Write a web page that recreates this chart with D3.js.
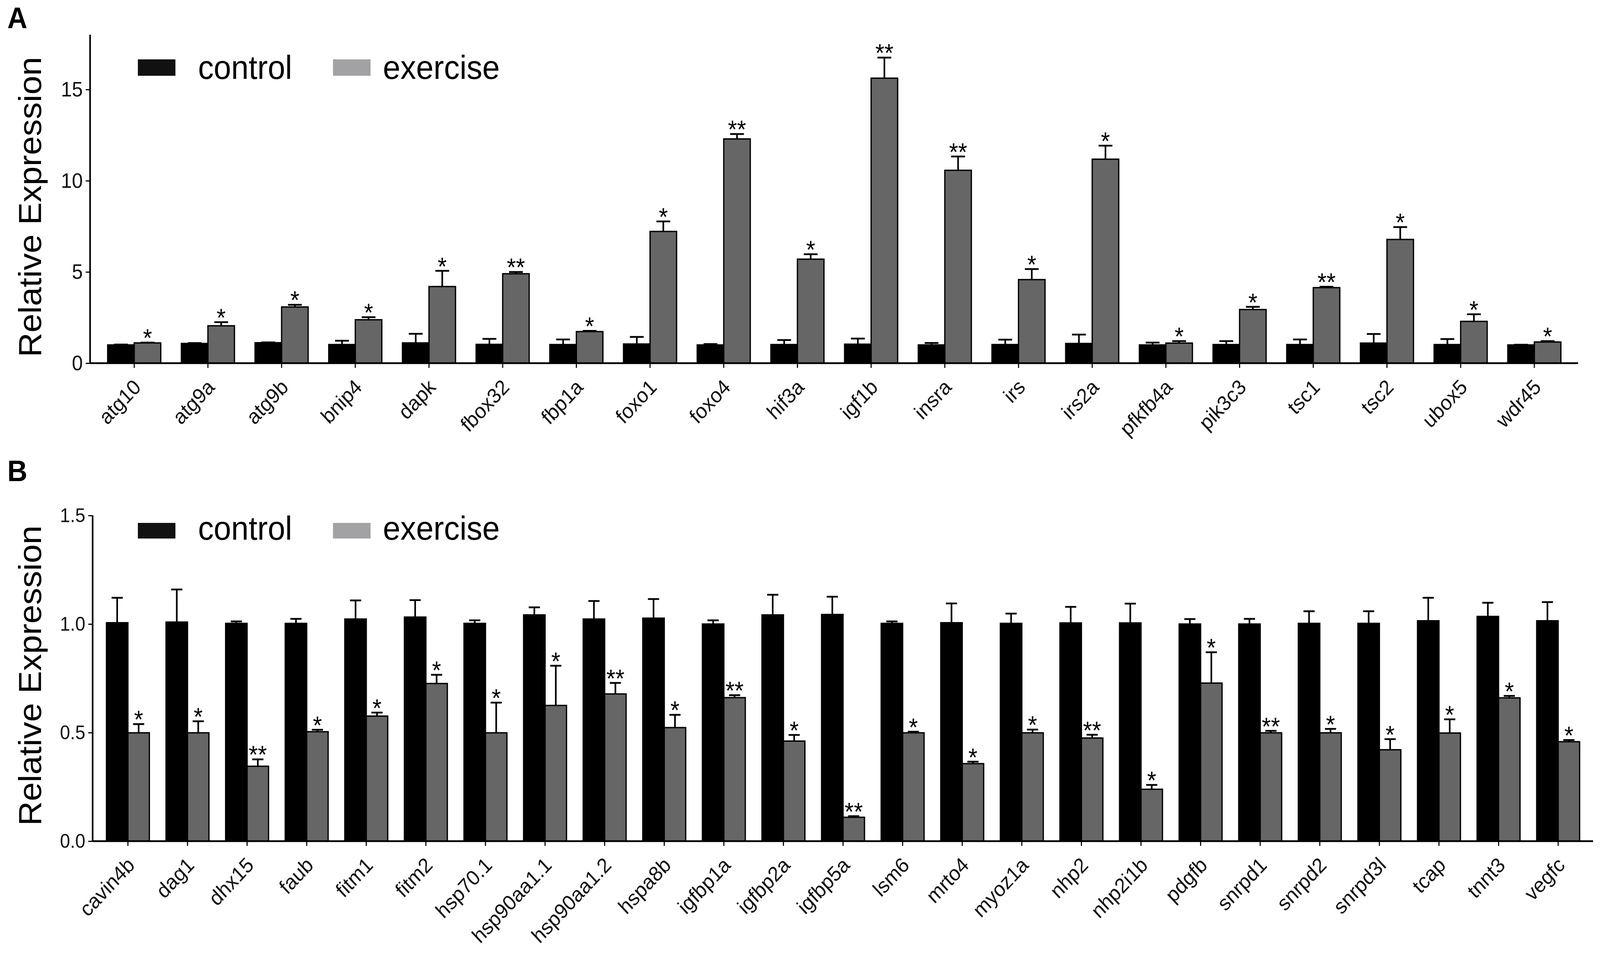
<!DOCTYPE html>
<html><head><meta charset="utf-8">
<script src="https://cdn.jsdelivr.net/npm/d3@7/dist/d3.min.js"></script>
<style>html,body{margin:0;padding:0;background:#fff;width:100%;height:100%;overflow:hidden;}svg{display:block;width:100vw;height:100vh;}</style>
</head><body>
<svg id="c" viewBox="0 0 4387 2466" preserveAspectRatio="none"></svg>
<script>
// ---------- data ----------
const seriesNames = ["control", "exercise"];

const catsA = ["atg10","atg9a","atg9b","bnip4","dapk","fbox32","fbp1a","foxo1","foxo4","hif3a","igf1b","insra","irs","irs2a","pfkfb4a","pik3c3","tsc1","tsc2","ubox5","wdr45"];
const ctrlA    = [1.00,1.08,1.12,1.02,1.11,1.03,1.02,1.05,1.00,1.02,1.04,1.00,1.02,1.08,1.00,1.02,1.02,1.10,1.02,1.00];
const ctrlErrA = [0.02,0.02,0.02,0.21,0.50,0.30,0.28,0.39,0.05,0.25,0.31,0.11,0.27,0.49,0.13,0.19,0.28,0.50,0.30,0.01];
const exA      = [1.11,2.05,3.08,2.38,4.20,4.90,1.73,7.22,12.29,5.70,15.62,10.57,4.58,11.18,1.10,2.94,4.14,6.78,2.29,1.16];
const exErrA   = [0.02,0.20,0.12,0.14,0.86,0.10,0.04,0.55,0.27,0.27,1.13,0.76,0.58,0.74,0.11,0.15,0.05,0.68,0.39,0.05];
const sigA     = ["*","*","*","*","*","**","*","*","**","*","**","**","*","*","*","*","**","*","*","*"];
const ticksA   = [0, 5, 10, 15];

const catsB = ["cavin4b","dag1","dhx15","faub","fitm1","fitm2","hsp70.1","hsp90aa1.1","hsp90aa1.2","hspa8b","igfbp1a","igfbp2a","igfbp5a","lsm6","mrto4","myoz1a","nhp2","nhp2i1b","pdgfb","snrpd1","snrpd2","snrpd3l","tcap","tnnt3","vegfc"];
const ctrlB    = [1.006,1.009,1.003,1.003,1.023,1.032,1.003,1.042,1.023,1.027,1.000,1.042,1.044,1.003,1.006,1.003,1.005,1.005,1.000,1.000,1.003,1.003,1.015,1.035,1.015];
const ctrlErrB = [0.115,0.150,0.009,0.021,0.086,0.078,0.014,0.035,0.083,0.088,0.017,0.093,0.082,0.009,0.089,0.045,0.074,0.089,0.023,0.024,0.056,0.056,0.106,0.063,0.086];
const exB      = [0.499,0.499,0.345,0.504,0.576,0.726,0.499,0.625,0.678,0.523,0.661,0.461,0.110,0.499,0.357,0.499,0.475,0.239,0.728,0.499,0.499,0.421,0.498,0.660,0.458];
const exErrB   = [0.040,0.053,0.032,0.009,0.016,0.040,0.139,0.183,0.051,0.059,0.011,0.028,0.005,0.005,0.009,0.015,0.015,0.020,0.142,0.009,0.018,0.049,0.063,0.009,0.008];
const sigB     = ["*","*","**","*","*","*","*","*","**","*","**","*","**","*","*","*","**","*","*","**","*","*","*","*","*"];
const ticksB   = [0, 0.5, 1.0, 1.5];

// ---------- drawing ----------
const FONT = "'Liberation Sans', Arial, Helvetica, sans-serif";
const svg = d3.select("#c");
svg.append("rect").attr("width", 4387).attr("height", 2466).attr("fill", "#fff");

function panel(cfg) {
  const g = svg.append("g");
  const x = d3.scaleBand().domain(cfg.cats).range(cfg.bandRange).padding(0);
  const xg = d3.scaleBand().domain(seriesNames).range([x.bandwidth() * 0.14, x.bandwidth() * 0.86]).padding(0);
  const y = d3.scaleLinear().domain(cfg.yDomain).range(cfg.yRange);
  const bw = xg.bandwidth();

  const rows = cfg.cats.map((c, i) => ({
    cat: c,
    vals: [
      { s: "control", v: cfg.ctrl[i], e: cfg.ctrlErr[i] },
      { s: "exercise", v: cfg.ex[i], e: cfg.exErr[i] }
    ],
    sig: cfg.sig[i]
  }));
  const fill = { control: "#000000", exercise: "#666666" };

  const grp = g.selectAll("g.cat").data(rows).join("g").attr("class", "cat")
    .attr("transform", d => `translate(${x(d.cat)},0)`);
  grp.selectAll("rect").data(d => d.vals).join("rect")
    .attr("x", d => xg(d.s))
    .attr("width", bw)
    .attr("y", d => y(d.v))
    .attr("height", d => y(0) - y(d.v))
    .attr("fill", d => fill[d.s])
    .attr("stroke", "#000").attr("stroke-width", 3.5);

  grp.selectAll("path.err").data(d => d.vals).join("path").attr("class", "err")
    .attr("d", d => {
      const cx = xg(d.s) + bw / 2, y1 = y(d.v), y2 = y(d.v + d.e), hw = bw * 0.26;
      return `M${cx},${y1}V${y2}M${cx - hw},${y2}H${cx + hw}`;
    })
    .attr("fill", "none").attr("stroke", "#000").attr("stroke-width", 4.5);

  grp.append("text")
    .attr("x", d => xg("exercise") + bw / 2)
    .attr("y", d => y(d.vals[1].v + d.vals[1].e) + 11)
    .attr("text-anchor", "middle")
    .attr("font-family", FONT).attr("font-size", 64)
    .attr("fill", "#000")
    .text(d => d.sig);

  const yAxis = d3.axisLeft(y).tickValues(cfg.ticks).tickFormat(cfg.fmt).tickSize(12).tickPadding(8);
  const ya = g.append("g").attr("transform", `translate(${cfg.axisX},0)`).call(yAxis);
  ya.select(".domain").attr("d", `M0,${y(cfg.yDomain[1])}V${y(0)}`).attr("stroke", "#000").attr("stroke-width", 4.5);
  ya.selectAll(".tick line").attr("stroke", "#000").attr("stroke-width", 3);
  ya.selectAll(".tick text").attr("font-family", FONT).attr("font-size", cfg.yTickSize).attr("fill", "#111");

  const xAxis = d3.axisBottom(x).tickSize(12).tickFormat(d => d);
  const xa = g.append("g").attr("transform", `translate(0,${y(0)})`).call(xAxis);
  xa.select(".domain").attr("d", `M${cfg.axisX},0H${cfg.axisEnd}`).attr("stroke", "#000").attr("stroke-width", 4.5);
  xa.selectAll(".tick line").attr("stroke", "#000").attr("stroke-width", 3);
  xa.selectAll(".tick text")
    .attr("font-family", FONT).attr("font-size", 54).attr("fill", "#111")
    .attr("text-anchor", "end")
    .attr("y", 0).attr("dy", "0.72em")
    .attr("transform", `translate(-6,37) rotate(-45)`);

  g.append("text")
    .attr("transform", `translate(112,${cfg.titleY}) rotate(-90)`)
    .attr("text-anchor", "middle")
    .attr("font-family", FONT).attr("font-size", 87).attr("fill", "#000")
    .text("Relative Expression");

  g.append("text").attr("x", 20).attr("y", cfg.letterY)
    .attr("font-family", FONT).attr("font-size", 76).attr("font-weight", "bold").attr("fill", "#000")
    .text(cfg.letter);

  const legColors = { control: "#111111", exercise: "#a2a2a5" };
  const lg = g.append("g");
  const legX = [{ s: "control", rx: 378, tx: 543 }, { s: "exercise", rx: 913, tx: 1050 }];
  lg.selectAll("rect").data(legX).join("rect")
    .attr("x", d => d.rx).attr("y", cfg.legY).attr("width", 103).attr("height", cfg.legH)
    .attr("fill", d => legColors[d.s]);
  lg.selectAll("text").data(legX).join("text")
    .attr("x", d => d.tx).attr("y", cfg.legBase)
    .attr("font-family", FONT).attr("font-size", 86).attr("fill", "#000")
    .text(d => d.s);
}

panel({
  letter: "A", letterY: 72,
  cats: catsA, ctrl: ctrlA, ctrlErr: ctrlErrA, ex: exA, exErr: exErrA, sig: sigA,
  ticks: ticksA, fmt: d3.format("d"),
  bandRange: [267, 4308], yDomain: [0, 18], yRange: [930, 89],
  axisX: 247, axisEnd: 4327, yTickSize: 54, titleY: 530,
  legY: 152, legH: 42, legBase: 202
});
panel({
  letter: "B", letterY: 1232,
  cats: catsB, ctrl: ctrlB, ctrlErr: ctrlErrB, ex: exB, exErr: exErrB, sig: sigB,
  ticks: ticksB, fmt: d3.format(".1f"),
  bandRange: [269, 4354], yDomain: [0, 1.5], yRange: [2154, 1320],
  axisX: 254, axisEnd: 4368, yTickSize: 50, titleY: 1730,
  legY: 1339, legH: 40, legBase: 1382
});
</script>
</body></html>
